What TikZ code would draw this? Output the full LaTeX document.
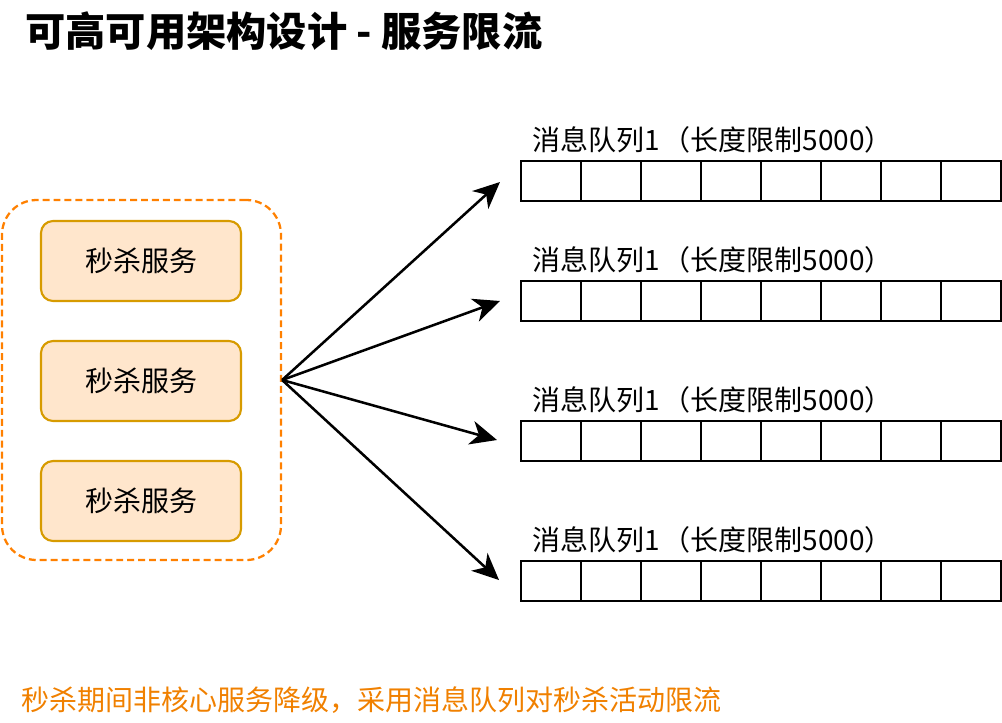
\documentclass[tikz,border=0pt]{standalone}
\usepackage{fontspec}
\setmainfont{Noto Sans CJK SC}
\usetikzlibrary{arrows.meta}
\definecolor{dashorange}{RGB}{255,128,0}
\definecolor{txtorange}{RGB}{240,128,0}
\definecolor{svcfill}{RGB}{255,230,204}
\definecolor{svcdraw}{RGB}{215,155,0}
\tikzset{
  container/.style={draw=dashorange, line width=1.7pt, dash pattern=on 5.2pt off 3pt,
    rounded corners=26pt, minimum width=279*0.75pt, minimum height=360*0.75pt, inner sep=0pt},
  svc/.style={draw=svcdraw, fill=svcfill, line width=1.6pt, rounded corners=9pt,
    minimum width=200*0.75pt, minimum height=80*0.75pt, inner sep=0pt, font=\fontsize{21pt}{24pt}\selectfont},
  cell/.style={draw=black, line width=1.9pt, minimum width=60*0.75pt, minimum height=40*0.75pt, inner sep=0pt},
  qlabel/.style={anchor=west, inner sep=0pt, font=\fontsize{21pt}{24pt}\selectfont},
  conn/.style={draw=black, line width=1.9pt, -{Stealth[length=20pt,width=18pt,inset=6pt]}},
}
\begin{document}
\begin{tikzpicture}[x=0.75pt,y=-0.75pt]
\useasboundingbox (0,0) rectangle (1002,722);
\node[anchor=west, inner sep=0pt, font=\fontsize{30.2pt}{34pt}\selectfont\bfseries] (title) at (25,31) {可高可用架构设计 - 服务限流};
\node[container] (grp) at (141.5,380) {};
\node[svc] (s1) at (141,261) {秒杀服务};
\node[svc] (s2) at (141,381) {秒杀服务};
\node[svc] (s3) at (141,501) {秒杀服务};
\foreach \r/\yc/\yl in {1/181/140, 2/301/260, 3/441/400, 4/581/540}{
  \node[qlabel] (q\r) at (532,\yl) {消息队列1\kern2pt（长度限制5000）};
  \foreach \i in {0,...,7}{
    \node[cell] (c\r-\i) at (551+60*\i,\yc) {};
  }
}
\coordinate (t1) at (500,182);
\coordinate (t2) at (500,301);
\coordinate (t3) at (497,440);
\coordinate (t4) at (499,580);
\foreach \r in {1,2,3,4}{
  \draw[conn] (grp.east) -- (t\r);
}
\node[anchor=west, inner sep=0pt, text=txtorange, font=\fontsize{21pt}{24pt}\selectfont] (note) at (21,700) {秒杀期间非核心服务降级，采用消息队列对秒杀活动限流};
\end{tikzpicture}
\end{document}
